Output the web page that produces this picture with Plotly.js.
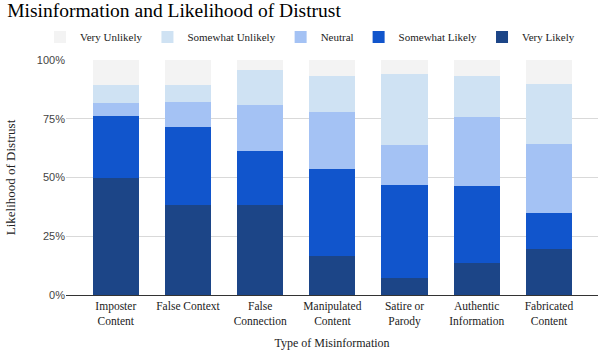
<!DOCTYPE html>
<html>
<head>
<meta charset="utf-8">
<script src="https://cdn.plot.ly/plotly-3.0.1.min.js"></script>
<style>html,body{margin:0;padding:0;background:#fff;}#chart{width:600px;height:350px;}</style>
</head>
<body>
<div id="chart"></div>
<script>
var categories = ["Imposter<br>Content", "False Context", "False<br>Connection", "Manipulated<br>Content", "Satire or<br>Parody", "Authentic<br>Information", "Fabricated<br>Content"];
var veryLikely = [49.7, 38.3, 38.3, 16.6, 7.4, 13.8, 19.4];
var somewhatLikely = [26.6, 33.3, 23.0, 37.0, 39.5, 32.7, 15.6];
var neutral = [5.5, 10.7, 19.6, 24.3, 17.1, 29.1, 29.3];
var somewhatUnlikely = [7.4, 7.1, 14.8, 15.4, 30.0, 17.7, 25.5];
var veryUnlikely = [10.8, 10.6, 4.3, 6.7, 6.0, 6.7, 10.2];
var yTickVals = [0, 25, 50, 75, 100];
var yTickText = ["0%", "25%", "50%", "75%", "100%"];

var serif = "Liberation Serif, DejaVu Serif, serif";
var sans = "Liberation Sans, Arial, sans-serif";
var idx = categories.map(function(_, i){ return i; });

function mk(name, vals, color){
  return {type: "bar", name: name, x: idx, y: vals, marker: {color: color}, hoverinfo: "y+name"};
}
var data = [
  mk("Very Likely", veryLikely, "#1c4587"),
  mk("Somewhat Likely", somewhatLikely, "#1155cc"),
  mk("Neutral", neutral, "#a4c2f4"),
  mk("Somewhat Unlikely", somewhatUnlikely, "#cfe2f3"),
  mk("Very Unlikely", veryUnlikely, "#f3f3f3")
];

var layout = {
  width: 600, height: 350,
  margin: {l: 66, r: 2, t: 60, b: 55},
  barmode: "stack",
  bargap: 0.36,
  paper_bgcolor: "#fff", plot_bgcolor: "#fff",
  title: {text: "Misinformation and Likelihood of Distrust", x: 0.012, xanchor: "left", y: 0.99, yanchor: "top",
          font: {family: serif, size: 19.5, color: "#000"}},
  legend: {orientation: "h", traceorder: "reversed", x: -0.049, xanchor: "left", y: 1.098, yanchor: "middle",
           font: {family: serif, size: 11, color: "#222"}, itemwidth: 30},
  xaxis: {
    tickvals: idx, ticktext: categories, range: [-0.69, 6.68],
    showgrid: false, zeroline: false, showline: true, linecolor: "#333", linewidth: 1,
    ticks: "", tickfont: {family: serif, size: 11.5, color: "#222"},
    title: {text: "Type of Misinformation", font: {family: serif, size: 12, color: "#222"}, standoff: 18},
    fixedrange: true
  },
  yaxis: {
    range: [0, 100], tickvals: yTickVals, ticktext: yTickText,
    showgrid: true, gridcolor: "#d9d9d9", zeroline: false, showline: false,
    ticks: "", tickfont: {family: sans, size: 11, color: "#444"},
    title: {text: "Likelihood of Distrust", font: {family: serif, size: 13, color: "#222"}, standoff: 18},
    fixedrange: true
  },
  showlegend: true
};
Plotly.newPlot("chart", data, layout, {displayModeBar: false, staticPlot: true});
</script>
</body>
</html>
